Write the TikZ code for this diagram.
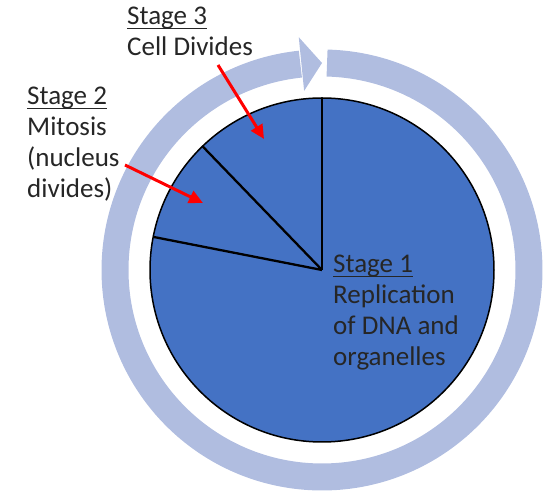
\documentclass[tikz,border=0pt]{standalone}
\usepackage{fontspec}
\setmainfont{Carlito}
\usetikzlibrary{arrows.meta,calc}
\definecolor{pieblue}{HTML}{4472C4}
\definecolor{ringblue}{HTML}{B0BDE0}
\definecolor{txt}{HTML}{262626}
\newcommand\uln[1]{\setbox0\hbox{#1}\rlap{\rule[-4.5pt]{\wd0}{1.5pt}}\box0}
\begin{document}
\begin{tikzpicture}[x=1pt,y=1pt,
  lbl/.style={anchor=base west, align=left, inner sep=0pt, text=txt, font=\fontsize{27}{31}\selectfont},
  redarrow/.style={red, line width=3pt, -{Triangle[length=14pt,width=13pt]}},
  divider/.style={line width=2.3pt, black}]
\useasboundingbox (0,0) rectangle (550,497);
\coordinate (C) at (322,227);
% cycle ring with arrow head
\draw[ringblue, line width=27pt] ([shift={(88.6:207)}]C) arc[start angle=88.6, end angle=-264, radius=207];
\fill[ringblue] ([shift={(95.7:234)}]C) -- ([shift={(90:207)}]C) -- ([shift={(95.7:180)}]C) -- cycle;
% pie
\fill[pieblue] (C) circle[radius=172];
\draw[divider] (C) -- ([shift={(90:172)}]C);
\draw[divider] (C) -- ([shift={(134:172)}]C);
\draw[divider] (C) -- ([shift={(168.9:172)}]C);
\draw[black, line width=1.5pt] (C) circle[radius=172];
% labels (base anchor = baseline of last line)
\node[lbl] (s3) at (127,441) {\uln{Stage 3}\\Cell Divides};
\node[lbl] (s2) at (27,299) {\uln{Stage 2}\\Mitosis\\(nucleus\\divides)};
\node[lbl] (s1) at (333,131) {\uln{Stage 1}\\Replication\\of DNA and\\organelles};
% red pointers
\coordinate (r3a) at (218,432);
\coordinate (r3b) at (264,358);
\coordinate (r2a) at (125,332);
\coordinate (r2b) at (203,294);
\draw[redarrow] (r3a) -- (r3b);
\draw[redarrow] (r2a) -- (r2b);
\end{tikzpicture}
\end{document}
